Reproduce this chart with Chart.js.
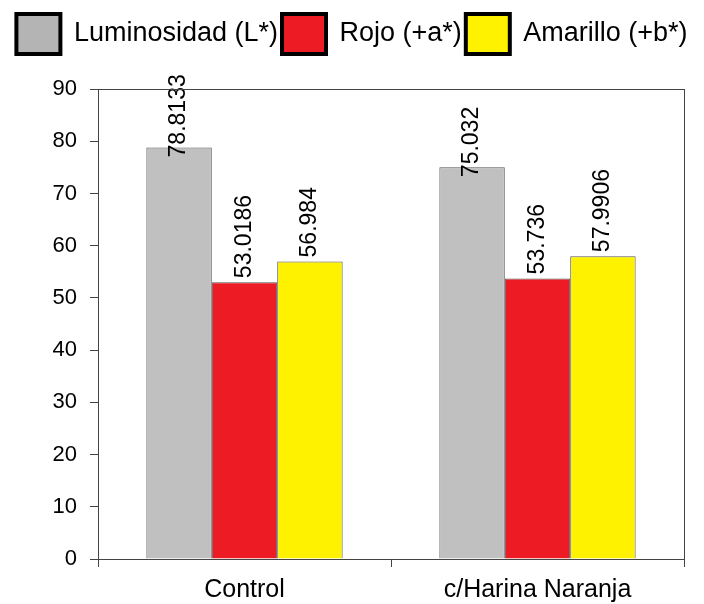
<!DOCTYPE html>
<html>
<head>
<meta charset="utf-8">
<script src="https://cdn.jsdelivr.net/npm/chart.js@4/dist/chart.umd.min.js"></script>
<style>
  html, body { margin: 0; padding: 0; background: #fff; }
  #wrap { width: 704px; height: 604px; }
</style>
</head>
<body>
<div id="wrap"><canvas id="colorChart"></canvas></div>
<script>
// Color parameters (CIELab) per sample
const categories = ["Control", "c/Harina Naranja"];
const seriesNames = ["Luminosidad (L*)", "Rojo (+a*)", "Amarillo (+b*)"];
const luminosidad = [78.8133, 75.032];
const rojo = [53.0186, 53.736];
const amarillo = [56.984, 57.9906];
const yTicks = [0, 10, 20, 30, 40, 50, 60, 70, 80, 90];

const FONT = "'Liberation Sans', Arial, sans-serif";
const fillColors = ["#c0c0c0", "#ed1c24", "#fff200"];
const legendFills = ["#b4b4b4", "#ed1c24", "#fff200"];
// label shift from the bar top in px (positive = above bar)
const labelOffsets = [-10, 4, 4];

// Extra space under the legend
const legendGap = {
  id: "legendGap",
  beforeInit(chart) {
    const origFit = chart.legend.fit;
    chart.legend.fit = function () {
      origFit.call(this);
      this.height += 25;
    };
  },
};

// Frame round the plot area
const frameBox = {
  id: "frameBox",
  afterDraw(chart) {
    const { ctx, chartArea } = chart;
    ctx.save();
    ctx.strokeStyle = "#444";
    ctx.lineWidth = 1;
    ctx.strokeRect(chartArea.left + 0.5, chartArea.top + 0.5,
      chartArea.right - chartArea.left, chartArea.bottom - chartArea.top);
    ctx.restore();
  },
};

// Vertical value labels over the bars
const barLabels = {
  id: "barLabels",
  afterDatasetsDraw(chart) {
    const ctx = chart.ctx;
    ctx.save();
    ctx.font = "23px " + FONT;
    ctx.fillStyle = "#000";
    ctx.textAlign = "left";
    ctx.textBaseline = "middle";
    chart.data.datasets.forEach((ds, di) => {
      const meta = chart.getDatasetMeta(di);
      meta.data.forEach((bar, i) => {
        ctx.save();
        ctx.translate(bar.x, bar.y - labelOffsets[di]);
        ctx.rotate(-Math.PI / 2);
        ctx.fillText(String(ds.data[i]), 0, 0);
        ctx.restore();
      });
    });
    ctx.restore();
  },
};

const seriesData = [luminosidad, rojo, amarillo];

new Chart(document.getElementById("colorChart"), {
  type: "bar",
  data: {
    labels: categories,
    datasets: seriesData.map((values, i) => ({
      label: seriesNames[i],
      data: values,
      backgroundColor: fillColors[i],
      borderColor: "#555",
      borderWidth: 1,
      categoryPercentage: 0.67,
      barPercentage: 1.0,
    })),
  },
  options: {
    responsive: true,
    maintainAspectRatio: false,
    animation: false,
    layout: {
      padding: { top: 10, left: 0, right: 0, bottom: 0 },
    },
    plugins: {
      tooltip: { enabled: false },
      legend: {
        position: "top",
        labels: {
          color: "#000",
          boxWidth: 44,
          boxHeight: 40,
          padding: 4,
          font: { family: FONT, size: 27 },
          generateLabels(chart) {
            return chart.data.datasets.map((ds, i) => ({
              text: ds.label,
              fillStyle: legendFills[i],
              strokeStyle: "#000",
              lineWidth: 4,
              fontColor: "#000",
              hidden: false,
              datasetIndex: i,
            }));
          },
        },
      },
    },
    scales: {
      x: {
        afterFit(scale) {
          scale.height = 45;
        },
        grid: {
          display: true,
          drawOnChartArea: false,
          drawTicks: true,
          tickLength: 8,
          color: "#444",
        },
        border: { color: "#444" },
        ticks: {
          color: "#000",
          padding: 8,
          font: { family: FONT, size: 25 },
        },
      },
      y: {
        min: 0,
        max: 90,
        afterBuildTicks(scale) {
          scale.ticks = yTicks.map((v) => ({ value: v }));
        },
        afterFit(scale) {
          scale.width = 98;
        },
        grid: {
          display: true,
          drawOnChartArea: false,
          drawTicks: true,
          tickLength: 8,
          color: "#444",
        },
        border: { color: "#444" },
        ticks: {
          color: "#000",
          padding: 13,
          font: { family: FONT, size: 22 },
        },
      },
      // empty strip on the right, keeps the plot off the edge
      yRight: {
        position: "right",
        display: true,
        grid: { display: false },
        border: { display: false },
        ticks: { display: false },
        afterFit(scale) {
          scale.width = 20;
        },
      },
    },
  },
  plugins: [legendGap, frameBox, barLabels],
});
</script>
</body>
</html>
